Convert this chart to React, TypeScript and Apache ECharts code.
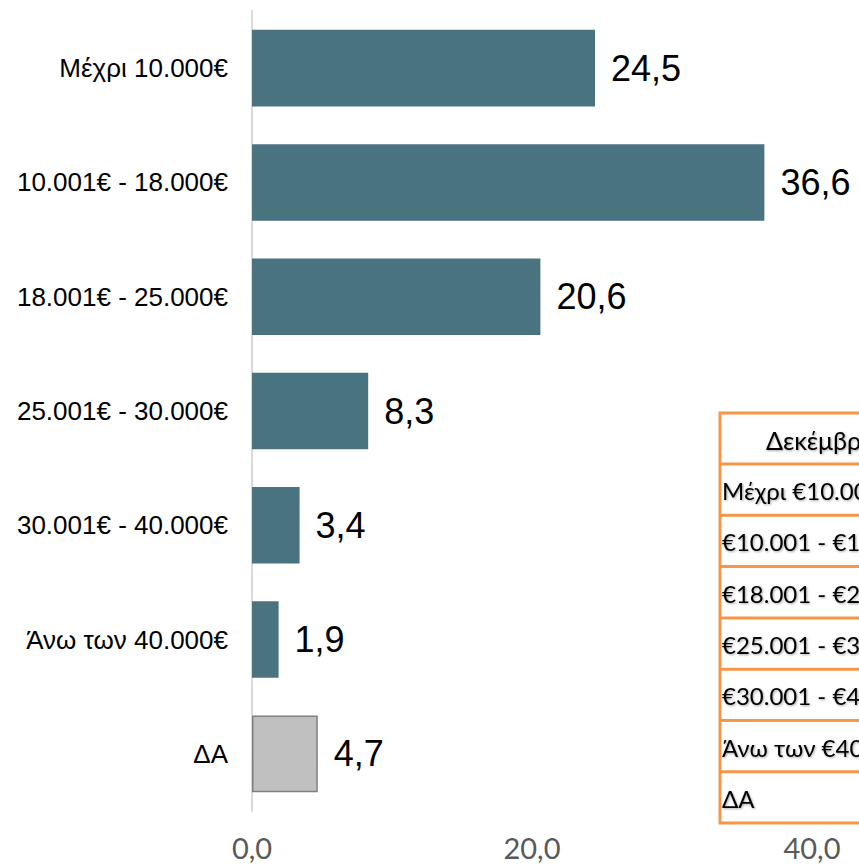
import React, { useEffect, useRef } from "react";
import * as echarts from "echarts";

const categories = [
  "Μέχρι 10.000€",
  "10.001€ - 18.000€",
  "18.001€ - 25.000€",
  "25.001€ - 30.000€",
  "30.001€ - 40.000€",
  "Άνω των 40.000€",
  "ΔΑ",
];
const values = [24.5, 36.6, 20.6, 8.3, 3.4, 1.9, 4.7];
const xTicks = [0, 20, 40, 60];

const tableHeader = "Δεκέμβριος 2023";
const tableRows = [
  "Μέχρι €10.000",
  "€10.001 - €18.000",
  "€18.001 - €25.000",
  "€25.001 - €30.000",
  "€30.001 - €40.000",
  "Άνω των €40.000",
  "ΔΑ",
];

const fmt = (v: number) => v.toFixed(1).replace(".", ",");

export default function App() {
  const ref = useRef<HTMLDivElement>(null);
  useEffect(() => {
    if (!ref.current) return;
    const chart = echarts.init(ref.current, undefined, { renderer: "svg" });

    const orange = "#F79646";
    const tLeft = 720;
    const tTop = 413;
    const headerH = 51;
    const rowH = 51.3;
    const tWidth = 400;
    const tHeight = headerH + rowH * tableRows.length;
    const tableFont = "24px Lato, 'Open Sans', sans-serif";
    const shadow = {
      textShadowColor: "rgba(0,0,0,0.35)",
      textShadowBlur: 2,
      textShadowOffsetX: 1,
      textShadowOffsetY: 1,
    };
    const graphics: any[] = [];
    graphics.push({
      type: "rect",
      shape: { x: tLeft, y: tTop, width: tWidth, height: tHeight },
      style: { fill: "#ffffff", stroke: orange, lineWidth: 3 },
      z: 10,
    });
    graphics.push({
      type: "text",
      x: 766,
      y: tTop + headerH / 2 + 1,
      style: {
        text: tableHeader,
        font: "25px Lato, 'Open Sans', sans-serif",
        fill: "#000",
        verticalAlign: "middle",
        ...shadow,
      },
      z: 11,
    });
    tableRows.forEach((r, i) => {
      const y0 = tTop + headerH + rowH * i;
      graphics.push({
        type: "line",
        shape: { x1: tLeft, y1: y0, x2: tLeft + tWidth, y2: y0 },
        style: { stroke: orange, lineWidth: 3 },
        z: 11,
      });
      graphics.push({
        type: "text",
        x: 722,
        y: y0 + rowH / 2 + 1,
        style: {
          text: r,
          font: tableFont,
          fill: "#000",
          verticalAlign: "middle",
          ...shadow,
        },
        z: 11,
      });
    });

    chart.setOption({
      animation: false,
      backgroundColor: "#ffffff",
      grid: {
        left: 252,
        top: 11,
        height: 800,
        width: 840,
        containLabel: false,
        outerBoundsMode: "none",
      },
      xAxis: {
        type: "value",
        min: xTicks[0],
        max: xTicks[xTicks.length - 1],
        interval: 20,
        axisLine: { show: false },
        axisTick: { show: false },
        splitLine: { show: false },
        axisLabel: {
          formatter: (v: number) => fmt(v),
          color: "#595959",
          fontSize: 29,
          fontFamily: "Lato, 'Open Sans', sans-serif",
          margin: 22,
        },
      },
      yAxis: {
        type: "category",
        data: categories,
        inverse: true,
        axisLine: { show: true, lineStyle: { color: "#D9D9D9", width: 2 } },
        axisTick: { show: false },
        axisLabel: {
          color: "#000",
          fontSize: 26,
          fontFamily: "'Liberation Sans', Arimo, sans-serif",
          margin: 24,
        },
      },
      series: [
        {
          type: "bar",
          barCategoryGap: "33%",
          data: values.map((v, i) =>
            i === values.length - 1
              ? {
                  value: v,
                  itemStyle: { color: "#C0C0C0", borderColor: "#7F7F7F", borderWidth: 1.5 },
                }
              : { value: v, itemStyle: { color: "#4A7380" } }
          ),
          label: {
            show: true,
            position: "right",
            distance: 16,
            formatter: (p: any) => fmt(p.value),
            color: "#000",
            fontSize: 36,
            fontFamily: "'Liberation Sans', Arimo, sans-serif",
          },
        },
      ],
      graphic: graphics,
    });
    return () => chart.dispose();
  }, []);
  return (
    <div
      ref={ref}
      style={{ position: "fixed", left: 0, top: 0, width: 859, height: 866 }}
    />
  );
}
